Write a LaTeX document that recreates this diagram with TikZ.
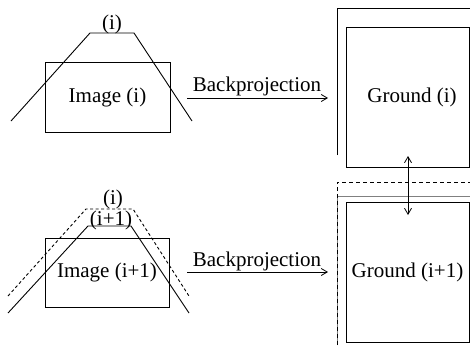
\documentclass[tikz,border=0pt]{standalone}
\usepackage{fontspec}
\setmainfont{Liberation Serif}
\usetikzlibrary{arrows.meta}
\begin{document}
\begin{tikzpicture}[x=1pt, y=-1pt, line width=0.9pt,
  lbl/.style={font=\fontsize{21}{25}\selectfont, inner sep=0pt},
  box/.style={draw, line width=1pt, inner sep=0pt, font=\fontsize{21}{25}\selectfont},
  arr/.style={-{Straight Barb[length=6pt,width=7pt]}, line width=0.8pt},
  dbl/.style={{Straight Barb[length=6pt,width=7pt]}-{Straight Barb[length=6pt,width=7pt]}, line width=0.8pt},
  dsh/.style={dash pattern=on 3pt off 2.5pt},
  dshwide/.style={dash pattern=on 4pt off 3pt}]
\useasboundingbox (0,0) rectangle (470,345);

% ---- first frame: image (i) and its footprint on the ground ----
\node[box, minimum width=125pt, minimum height=70pt] (img1) at (107.5,97) {Image (i)};
\draw (11,121) -- (90,33) -- (134,33) -- (192,121);
\node[lbl] (cone1) at (112,24) {(i)};

\coordinate (bp1s) at (187,98);
\coordinate (bp1e) at (328,98);
\draw[arr] (bp1s) -- (bp1e);
\node[lbl] (bp1) at (257,86) {Backprojection};

\draw (337,155) -- (337,8) -- (470,8);
\node[box, minimum width=123pt, minimum height=139pt] (gnd1) at (407.5,97.5) {};
\node[lbl] (gnd1txt) at (412,97.5) {Ground (i)};

% ---- second frame: image (i+1), previous footprint dashed ----
\node[box, minimum width=124pt, minimum height=69pt] (img2) at (107,272.5) {Image (i+1)};
\draw[dsh] (8,296) -- (86,209) -- (133,209) -- (189,296);
\draw (8,313) -- (88,226) -- (131,226) -- (189,313);
\node[lbl] (cone2a) at (113,199.5) {(i)};
\node[lbl] (cone2b) at (111,220) {(i+1)};

\coordinate (bp2s) at (187,272);
\coordinate (bp2e) at (328,272);
\draw[arr] (bp2s) -- (bp2e);
\node[lbl] (bp2) at (257,261) {Backprojection};

\draw[gray, line width=1pt] (337,345) -- (337,196) -- (470,196);
\draw[dshwide] (337,345) -- (337,182) -- (470,182);
\node[box, minimum width=123pt, minimum height=140pt] (gnd2) at (407.5,272) {Ground (i+1)};

% ---- link between the two ground patches ----
\coordinate (lkA) at (408,156);
\coordinate (lkB) at (408,215);
\draw[dbl] (lkA) -- (lkB);
\end{tikzpicture}
\end{document}
